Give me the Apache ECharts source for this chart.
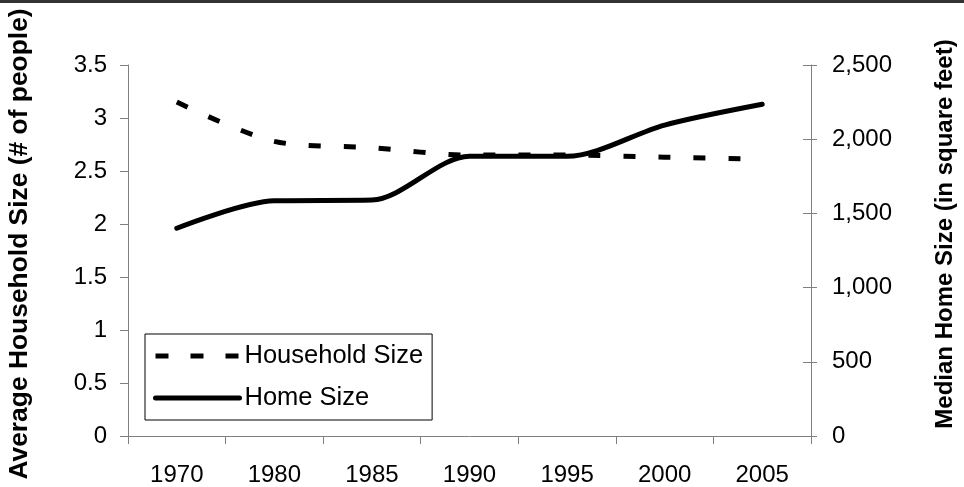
<!DOCTYPE html>
<html><head><meta charset="utf-8">
<script src="https://cdn.jsdelivr.net/npm/echarts@6/dist/echarts.min.js"></script>
<style>html,body{margin:0;padding:0;background:#fff}#c{width:964px;height:487px}</style>
</head><body><div id="c"></div>
<script>
const years = ['1970','1980','1985','1990','1995','2000','2005'];
const householdSize = [3.15, 2.78, 2.72, 2.65, 2.65, 2.63, 2.61];
const homeSize = [1400, 1585, 1590, 1885, 1885, 2095, 2235];
const leftTicks = [0, 3.5, 0.5];
const rightTicks = [0, 2500, 500];

const FONT = 'Liberation Sans, Arial, sans-serif';
const axisCol = '#808080';
const chart = echarts.init(document.getElementById('c'), null, {renderer: 'canvas'});
chart.setOption({
  animation: false,
  backgroundColor: '#fff',
  grid: {left: 128, right: 153, top: 65, bottom: 50},
  legend: {
    orient: 'vertical', left: 145, top: 334,
    padding: [9, 9, 9, 8], itemGap: 16, itemWidth: 84, itemHeight: 26,
    borderColor: '#000', borderWidth: 1, backgroundColor: '#fff',
    textStyle: {fontFamily: FONT, fontSize: 25.5, color: '#000', lineHeight: 26},
    itemStyle: {opacity: 0},
    data: [
      {name: 'Household Size', itemStyle: {opacity: 0},
       lineStyle: {color: '#000', width: 5, type: [13, 22], cap: 'butt'}},
      {name: 'Home Size', itemStyle: {opacity: 0},
       lineStyle: {color: '#000', width: 5, type: 'solid', cap: 'round'}}
    ]
  },
  xAxis: {
    type: 'category', data: years, boundaryGap: true,
    axisLine: {lineStyle: {color: axisCol, width: 1}},
    axisTick: {show: true, length: 8, lineStyle: {color: axisCol}},
    axisLabel: {fontFamily: FONT, fontSize: 24, color: '#000', margin: 27}
  },
  yAxis: [
    {type: 'value', position: 'left', min: leftTicks[0], max: leftTicks[1], interval: leftTicks[2],
     splitLine: {show: false},
     axisLine: {show: true, lineStyle: {color: axisCol}},
     axisTick: {show: true, length: 8, lineStyle: {color: axisCol}},
     axisLabel: {fontFamily: FONT, fontSize: 24, color: '#000', margin: 21}},
    {type: 'value', position: 'right', min: rightTicks[0], max: rightTicks[1], interval: rightTicks[2],
     splitLine: {show: false},
     axisLine: {show: true, lineStyle: {color: axisCol}},
     axisTick: {show: true, length: 6, lineStyle: {color: axisCol}},
     axisLabel: {fontFamily: FONT, fontSize: 24, color: '#000', margin: 21,
       formatter: v => v.toLocaleString('en-US')}},
    {type: 'value', position: 'right', min: rightTicks[0], max: rightTicks[1], interval: rightTicks[2],
     splitLine: {show: false},
     axisLine: {show: false},
     axisTick: {show: true, inside: true, length: 8, lineStyle: {color: axisCol}},
     axisLabel: {show: false}}
  ],
  series: [
    {name: 'Household Size', type: 'line', yAxisIndex: 0, data: householdSize,
     smooth: 0.3, symbol: 'none',
     lineStyle: {color: '#000', width: 5, type: [12, 23], cap: 'butt'},
     itemStyle: {color: '#000'}},
    {name: 'Home Size', type: 'line', yAxisIndex: 1, data: homeSize,
     smooth: 0.3, symbol: 'none',
     lineStyle: {color: '#000', width: 5, cap: 'round'},
     itemStyle: {color: '#000'}}
  ],
  graphic: [
    {type: 'rect', left: 0, top: 0, shape: {width: 964, height: 3}, style: {fill: '#333'}},
    {type: 'text', x: 20, y: 244, rotation: Math.PI / 2,
     style: {text: 'Average Household Size (# of people)', fontFamily: FONT, fontWeight: 'bold',
       fontSize: 26.4, fill: '#000', align: 'center', verticalAlign: 'middle'}},
    {type: 'text', x: 945, y: 234, rotation: Math.PI / 2,
     style: {text: 'Median Home Size (in square feet)', fontFamily: FONT, fontWeight: 'bold',
       fontSize: 24, fill: '#000', align: 'center', verticalAlign: 'middle'}}
  ]
});
</script></body></html>
